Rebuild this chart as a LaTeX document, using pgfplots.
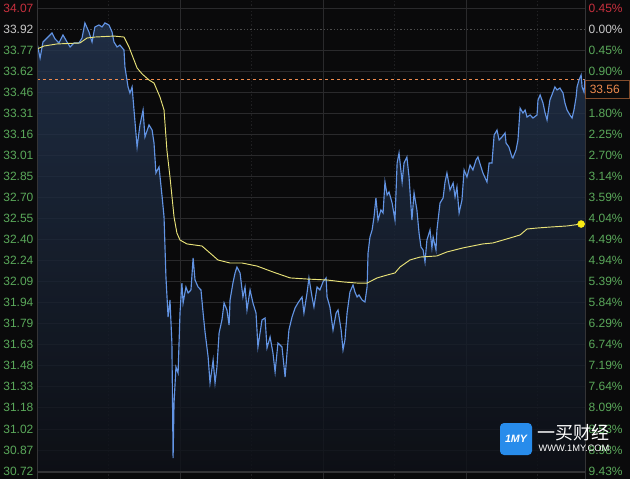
\documentclass[border=0pt]{standalone}
\usepackage{pgfplots}
\pgfplotsset{compat=1.18}
\usepackage{pgfplotstable}
\usepackage{fontspec}
\setmainfont{Liberation Sans}
\newfontfamily\cjk{Noto Sans CJK SC}

\definecolor{bg}{RGB}{10,10,11}
\definecolor{gridc}{RGB}{42,42,44}
\definecolor{gridm}{RGB}{32,32,34}
\definecolor{gridd}{RGB}{75,75,75}
\definecolor{borderc}{RGB}{52,52,54}
\definecolor{pblue}{RGB}{98,148,228}
\definecolor{avgy}{RGB}{232,226,120}
\definecolor{dotY}{RGB}{250,235,20}
\definecolor{upred}{RGB}{200,48,62}
\definecolor{flatw}{RGB}{200,200,200}
\definecolor{dngreen}{RGB}{90,168,90}
\definecolor{orng}{RGB}{238,138,78}
\definecolor{fillTop}{RGB}{36,54,82}
\definecolor{fillBot}{RGB}{14,17,24}
\definecolor{logoblue}{RGB}{40,140,235}

\pgfplotstableread{
t p
0 33.817
1.3 33.708
2.5 33.824
4.2 33.853
6.3 33.889
7.6 33.846
9.2 33.817
10.9 33.875
12.6 33.824
13.9 33.788
15.5 33.817
17.6 33.817
18.9 33.853
20.1 33.962
21.8 33.896
23.1 33.824
24.3 33.933
26.0 33.947
27.3 33.933
28.5 33.962
30.2 33.947
31.5 33.896
32.3 33.824
33.6 33.788
34.8 33.802
36.5 33.766
36.9 33.643
38.2 33.499
39.0 33.455
39.9 33.499
40.7 33.332
42.0 33.064
43.2 33.224
44.5 33.332
45.3 33.137
47.0 33.224
48.3 33.187
49.1 33.093
49.9 32.876
51.2 32.920
52.5 32.703
53.3 32.558
54.1 32.124
55.0 31.834
55.8 31.957
56.6 31.646
57.1 30.814
57.5 31.212
58.3 31.472
59.2 31.429
60.0 31.863
60.8 32.080
61.3 31.936
62.5 32.051
63.4 32.008
64.6 32.030
65.5 32.261
66.3 32.102
67.6 32.051
68.8 32.030
69.7 31.863
70.5 31.726
71.8 31.545
72.6 31.357
73.9 31.523
74.7 31.357
75.5 31.472
76.4 31.719
77.6 31.813
78.5 31.936
79.7 31.885
80.6 31.776
81.0 31.957
82.2 32.080
83.1 32.153
83.9 32.196
85.2 32.153
86.4 31.979
87.3 32.051
88.1 31.885
89.4 32.030
90.6 31.936
91.9 31.863
92.7 31.617
94.4 31.813
95.7 31.827
96.5 31.610
97.8 31.690
99.0 31.574
99.9 31.436
101.1 31.646
102.8 31.617
104.1 31.400
104.9 31.574
105.7 31.740
107.0 31.834
108.3 31.900
109.5 31.936
111.2 31.979
112.0 31.863
113.3 32.008
114.1 32.117
115.4 31.979
116.2 31.907
117.5 32.051
118.7 32.030
120.0 32.088
121.3 32.117
121.7 31.979
122.9 31.907
124.2 31.740
125.5 31.863
126.3 31.885
127.6 31.740
128.4 31.596
129.2 31.668
130.1 31.863
131.3 32.015
132.6 32.066
133.4 32.015
134.3 31.979
135.1 31.994
136.4 31.957
137.6 31.943
138.5 32.051
138.9 32.297
139.7 32.413
140.6 32.464
141.4 32.558
142.2 32.696
143.1 32.536
144.3 32.609
145.2 32.587
146.0 32.811
146.9 32.717
147.7 32.739
149.0 32.659
150.2 32.536
151.1 32.949
151.9 33.021
153.2 32.811
154.0 32.949
155.2 32.992
156.1 32.847
157.3 32.536
158.2 32.732
159.4 32.609
160.3 32.442
161.1 32.341
162.0 32.319
162.8 32.232
163.6 32.391
164.9 32.464
165.7 32.334
166.2 32.413
167.4 32.319
167.8 32.464
169.1 32.659
170.4 32.696
171.2 32.811
172.0 32.876
173.3 32.753
174.6 32.804
175.4 32.703
176.2 32.775
177.1 32.587
178.3 32.681
179.2 32.898
180.4 32.847
181.7 32.934
182.9 32.898
184.2 32.970
185.0 32.992
186.3 32.920
187.1 32.876
188.8 32.811
189.7 32.949
190.9 32.949
191.8 33.151
193.0 33.187
193.9 33.115
195.1 33.137
196.4 33.166
196.8 33.093
198.0 33.064
199.3 32.992
199.7 32.985
201.0 33.043
201.8 33.115
202.7 33.346
203.9 33.310
204.8 33.332
205.6 33.281
206.9 33.296
208.1 33.274
209.8 33.296
210.2 33.404
211.1 33.441
212.3 33.383
213.2 33.310
214.0 33.260
215.2 33.404
216.5 33.462
217.3 33.499
218.2 33.477
219.4 33.491
220.7 33.455
221.5 33.383
222.4 33.332
223.6 33.296
224.5 33.274
225.3 33.332
226.2 33.426
226.6 33.499
227.4 33.549
228.3 33.585
228.7 33.499
229.5 33.462
229.9 33.556
}\price

\pgfplotstableread{
t p
0 33.773
2.9 33.795
8.4 33.810
18.0 33.817
21.0 33.853
24.3 33.860
32.3 33.867
36.5 33.860
38.6 33.788
42.0 33.636
44.1 33.593
47.0 33.549
49.1 33.527
51.6 33.426
53.3 33.332
54.5 33.043
55.8 32.847
57.5 32.558
58.7 32.442
60.0 32.391
62.9 32.363
69.2 32.348
72.6 32.297
75.9 32.247
81.0 32.225
86.0 32.225
92.3 32.203
99.0 32.160
106.2 32.117
113.3 32.109
121.7 32.102
128.4 32.088
134.3 32.080
138.5 32.080
142.7 32.117
146.9 32.138
150.2 32.153
152.3 32.196
156.5 32.247
160.7 32.268
167.8 32.276
172.0 32.305
178.7 32.334
187.1 32.363
191.3 32.370
198.5 32.406
202.7 32.428
205.6 32.471
209.8 32.478
215.2 32.485
222.4 32.493
228.3 32.507
}\avg

\begin{document}
\begin{tikzpicture}
\path[use as bounding box] (0,0) rectangle (472.5pt,359.25pt);
\fill[bg] (0,0) rectangle (472.5pt,359.25pt);
\pgfplotsset{
  common/.style={
    scale only axis, width=411pt, height=359.25pt,
    at={(27.75pt,0pt)}, anchor=south west,
    xmin=0, xmax=229.93, ymin=30.662, ymax=34.128,
    axis line style={draw=none},
    tick style={draw=none},
    ytick={30.72,30.8723,31.0245,31.1768,31.3291,31.4814,31.6336,31.7859,31.9382,32.0905,32.2427,32.3950,32.5473,32.6995,32.8518,33.0041,33.1564,33.3086,33.4609,33.6132,33.7655,34.07},
    extra y ticks={33.9177},
  }
}
\begin{axis}[common,
  xtick={60,120,180}, minor xtick={30,90,150,210}, xticklabels={},
  xmajorgrids, xminorgrids, ymajorgrids,
  major grid style={color=gridc, line width=0.6pt},
  minor grid style={color=gridm, dash pattern=on 1pt off 1.5pt, line width=0.6pt},
  extra y tick style={ymajorgrids=true, major grid style={color=gridd, dash pattern=on 1pt off 1.5pt, line width=0.6pt}},
  yticklabels={30.72,30.87,31.02,31.18,31.33,31.48,31.63,31.79,31.94,32.09,32.24,32.40,32.55,32.70,32.85,33.01,33.16,33.31,33.46,33.62,33.77,{\color{upred}34.07}},
  extra y tick labels={{\color{flatw}33.92}},
  yticklabel style={font=\fontsize{9}{10}\selectfont, color=dngreen, inner sep=0pt, anchor=east, xshift=-2.5pt},
]
\addplot[draw=none, top color=fillTop, bottom color=fillBot, fill opacity=0.8] table[x=t,y=p] {\price} -- (axis cs:229.9,30.72) -- (axis cs:0,30.72) -- cycle;
\addplot[orng, line width=0.8pt, dash pattern=on 2.5pt off 2pt] coordinates {(0,33.552) (229.93,33.552)};
\addplot[pblue, line width=0.85pt] table[x=t,y=p] {\price};
\addplot[avgy, line width=0.7pt] table[x=t,y=p] {\avg};
\addplot[only marks, mark=*, mark size=2.6pt, color=dotY] coordinates {(228.3,32.507)};
\end{axis}
\begin{axis}[common,
  xtick=\empty, yticklabel pos=right,
  yticklabels={9.43\%,8.98\%,8.53\%,8.09\%,7.64\%,7.19\%,6.74\%,6.29\%,5.84\%,5.39\%,4.94\%,4.49\%,4.04\%,3.59\%,3.14\%,2.70\%,2.25\%,1.80\%,{},0.90\%,0.45\%,{\color{upred}0.45\%}},
  extra y tick labels={{\color{flatw}0.00\%}},
  yticklabel style={font=\fontsize{9}{10}\selectfont, color=dngreen, inner sep=0pt, anchor=west, xshift=2.5pt},
]
\end{axis}
\draw[borderc, line width=0.6pt] (27.75pt,0) -- (27.75pt,359.25pt);
\draw[borderc, line width=0.6pt] (438.75pt,0) -- (438.75pt,359.25pt);
\draw[borderc, line width=0.8pt] (27.75pt,5.25pt) -- (438.75pt,5.25pt);
% current price tag
\fill[bg] (439pt,285.75pt) rectangle (472.5pt,299.25pt);
\draw[orng!55!black, line width=0.6pt] (439pt,285.75pt) rectangle (472.3pt,299.25pt);
\node[orng, font=\fontsize{9}{10}\selectfont, inner sep=0pt] at (453.6pt,292.4pt) {33.56};
% watermark
\fill[logoblue, rounded corners=3pt] (375pt,18pt) rectangle (399pt,42pt);
\node[white, font=\bfseries\itshape\fontsize{8}{8}\selectfont, inner sep=0pt] at (387pt,30.5pt) {1MY};
\node[white, font=\cjk\fontsize{13.5}{14}\selectfont, inner sep=0pt] at (430pt,34.5pt) {一买财经};
\node[white, font=\fontsize{7}{7}\selectfont, inner sep=0pt] at (430.5pt,22.9pt) {WWW.1MY.COM};
\end{tikzpicture}
\end{document}
